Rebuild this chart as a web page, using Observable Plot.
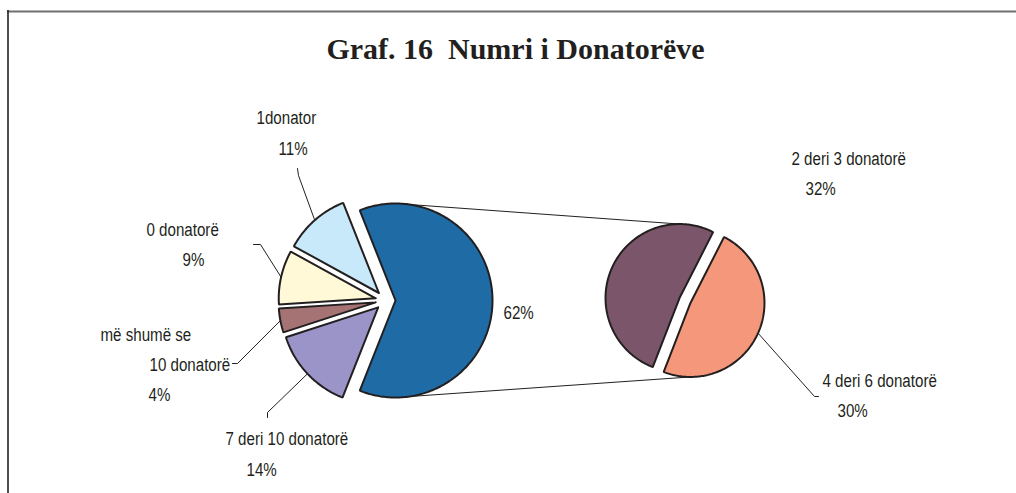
<!DOCTYPE html>
<html><head><meta charset="utf-8">
<script src="https://cdn.jsdelivr.net/npm/d3@7"></script>
<script src="https://cdn.jsdelivr.net/npm/@observablehq/plot@0.6"></script>
<style>
html,body{margin:0;padding:0;background:#fff;}
#chart{width:1016px;height:493px;}
</style></head><body><div id="chart"></div>
<script>
// ---------- DATA ----------
const title = "Graf. 16  Numri i Donatorëve";
// primary pie
const mainCategories = ["1donator", "0 donatorë", "më shumë se 10 donatorë", "7 deri 10 donatorë"];
const mainValues = [11, 9, 4, 14];
// secondary pie (breakdown of the combined slice)
const secondCategories = ["2 deri 3 donatorë", "4 deri 6 donatorë"];
const secondValues = [32, 30];
// colours
const mainColors = ["#c8e9f9", "#fff9d8", "#a57373", "#9b94c8"];
const otherColor = "#1e6ba6";
const secondColors = ["#7b5569", "#f4977a"];

// ---------- LAYOUT ----------
const W = 1016, H = 493;
const P1 = {cx: 385, cy: 300, r: 97, explode: 10};
const P2 = {cx: 684.5, cy: 300, r: 74, explode: 6, start: 63};
const FONT = '"Liberation Sans", Arial, sans-serif';
const CONDENSE = 0.84;
const mainLabelLayout = [
  {lines: [[256, 123], [278, 154]], leader: [[298, 175], [297, 168]]},
  {lines: [[146, 235], [182, 265]], leader: [[260, 244], [253, 244]]},
  {lines: [[100, 340], [149, 370], [148, 400]], leader: [[237, 363], [232, 363]]},
  {lines: [[225, 444], [246, 475]], leader: [[267, 412], [267, 417]]}
];
const otherLabelLayout = [503, 318];
const secondLabelLayout = [
  {lines: [[791, 164], [805, 194]], leader: null},
  {lines: [[822, 386], [837, 416]], leader: [[814, 396], [818, 396]]}
];

// ---------- GEOMETRY ----------
const rad = d => d * Math.PI / 180;
const pt = (c, r, a) => [c[0] + r * Math.cos(rad(a)), c[1] - r * Math.sin(rad(a))];
const total = d3.sum(mainValues) + d3.sum(secondValues);
const otherValue = d3.sum(secondValues);

function slicePoly(center, r, a0, a1) {
  const pts = [center];
  const n = Math.max(2, Math.ceil(Math.abs(a1 - a0)));
  for (let i = 0; i <= n; i++) pts.push(pt(center, r, a0 + (a1 - a0) * i / n));
  pts.push(center);
  return pts;
}

const slices = [];
const otherDeg = otherValue / total * 360;
let a = -otherDeg / 2;
{
  const mid = 0;
  const c = pt([P1.cx, P1.cy], P1.explode, mid);
  slices.push({id: "other", color: otherColor, c, r: P1.r, a0: a, a1: a + otherDeg, mid});
  a += otherDeg;
}
mainValues.forEach((v, i) => {
  const deg = v / total * 360, mid = a + deg / 2;
  const c = pt([P1.cx, P1.cy], P1.explode, mid);
  slices.push({id: "m" + i, color: mainColors[i], c, r: P1.r, a0: a, a1: a + deg, mid, label: mainLabelLayout[i], name: mainCategories[i], value: v});
  a += deg;
});
let b = P2.start;
secondValues.forEach((v, i) => {
  const deg = v / otherValue * 360, mid = b + deg / 2;
  const c = pt([P2.cx, P2.cy], P2.explode, mid);
  slices.push({id: "s" + i, color: secondColors[i], c, r: P2.r, a0: b, a1: b + deg, mid, label: secondLabelLayout[i], name: secondCategories[i], value: v});
  b += deg;
});

const other = slices[0];
const s0 = slices.find(s => s.id === "s0"), s1 = slices.find(s => s.id === "s1");
const connectors = [
  {id: "t", x: other.c[0], y: other.c[1] - other.r}, {id: "t", x: s0.c[0], y: s0.c[1] - s0.r},
  {id: "b", x: other.c[0], y: other.c[1] + other.r}, {id: "b", x: s1.c[0], y: s1.c[1] + s1.r}
];

const texts = [];
const leaders = [];
slices.forEach(s => {
  if (!s.label) return;
  const pct = Math.round(s.value / total * 100) + "%";
  const L = s.label.lines;
  let nameLines = [s.name];
  if (L.length === 3) {
    const k = s.name.indexOf(" 10");
    nameLines = [s.name.slice(0, k), s.name.slice(k + 1)];
  }
  [...nameLines, pct].forEach((t, j) => texts.push({text: t, x: L[j][0], y: L[j][1]}));
  if (s.label.leader) {
    const p0 = pt(s.c, s.r, s.mid);
    [p0, ...s.label.leader].forEach(p => leaders.push({id: s.id, x: p[0], y: p[1]}));
  }
});
texts.push({text: Math.round(otherValue / total * 100) + "%", x: otherLabelLayout[0], y: otherLabelLayout[1]});

const sliceMarks = slices.map(s => {
  const poly = slicePoly(s.c, s.r, s.a0, s.a1).map(p => ({x: p[0], y: p[1]}));
  return Plot.line(poly, {x: "x", y: "y", fill: s.color, stroke: "#231f20", strokeWidth: 2, strokeLinejoin: "miter", curve: "linear"});
});

const chart = Plot.plot({
  width: W, height: H, margin: 0,
  x: {domain: [0, W], range: [0, W], axis: null},
  y: {domain: [0, H], range: [0, H], axis: null},
  style: {background: "#fff", overflow: "visible"},
  marks: [
    Plot.ruleY([11], {x1: 7, x2: W, stroke: "#6e6e6e", strokeWidth: 2}),
    Plot.ruleX([7.5], {y1: 10, y2: H, stroke: "#222", strokeWidth: 1.6}),
    Plot.text([title], {x: 515, y: 58, text: d => d, lineAnchor: "bottom", fontFamily: '"Liberation Serif", "Times New Roman", serif', fontWeight: "bold", fontSize: 30, fill: "#231f20"}),
    Plot.line(connectors, {x: "x", y: "y", z: "id", stroke: "#231f20", strokeWidth: 1}),
    Plot.line(leaders, {x: "x", y: "y", z: "id", stroke: "#231f20", strokeWidth: 1}),
    ...sliceMarks,
    Plot.text(texts, {x: "x", y: "y", text: "text", textAnchor: "start", lineAnchor: "bottom", fontFamily: FONT, fontSize: 18, fill: "#231f20"})
  ]
});
document.getElementById("chart").appendChild(chart);
// condense label glyphs horizontally (reference uses a narrow sans face)
d3.select(chart).selectAll("text").each(function() {
  if (this.textContent === title) return;
  const len = this.getComputedTextLength();
  if (len > 0) {
    this.setAttribute("textLength", (len * CONDENSE).toFixed(2));
    this.setAttribute("lengthAdjust", "spacingAndGlyphs");
  }
});
</script>
</body></html>
